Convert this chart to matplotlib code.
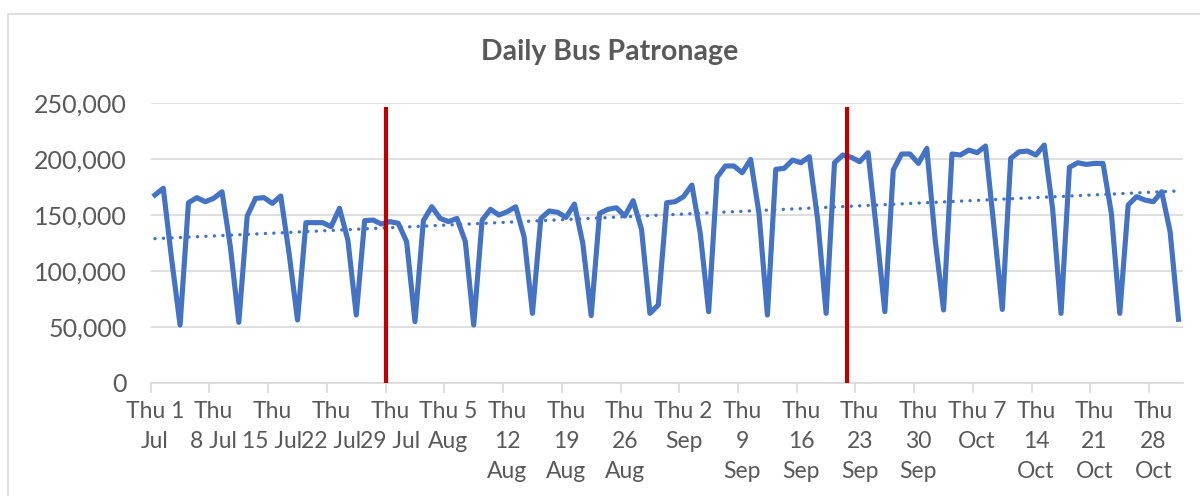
import numpy as np
import pandas as pd
import matplotlib
matplotlib.use("Agg")
import matplotlib.pyplot as plt
from matplotlib.patches import Rectangle

# daily boardings, Thu 1 Jul 2021 .. Sun 31 Oct 2021
patronage = [
    167600, 173600, 110000, 51500, 160700, 165200, 161600,
    164600, 170500, 121000, 53900, 148800, 164600, 165200,
    160100, 166700, 115000, 56000, 142900, 142900, 142900,
    139300, 155700, 127400, 60400, 144700, 145200, 141700,
    143800, 142300, 126000, 54500, 144700, 157100, 146700,
    143800, 146700, 126000, 51500, 145200, 154800, 149700,
    152700, 157100, 130400, 61900, 146700, 153300, 152100,
    147600, 159500, 124400, 59900, 151200, 154800, 156200,
    148800, 162500, 136900, 61900, 69400, 160700, 161600,
    166100, 176500, 133400, 63400, 183400, 193500, 193500,
    187500, 199400, 151200, 60400, 190500, 191400, 198800,
    196400, 201800, 145300, 61900, 196400, 203300, 201200,
    197300, 205400, 136300, 63400, 189900, 204200, 204200,
    195800, 209200, 127400, 64900, 204200, 203300, 207700,
    205400, 211300, 139300, 65400, 200300, 206200, 206800,
    203300, 212200, 155000, 61900, 192300, 196400, 194900,
    195800, 195800, 151200, 61900, 158700, 166100, 163100,
    161600, 170500, 134800, 56600,
]
start_date = "2021-07-01"
marker_dates = ["2021-07-29", "2021-09-22"]
tick_labels = [
    "Thu 1\nJul", "Thu\n8 Jul", "Thu\n15 Jul", "Thu\n22 Jul", "Thu\n29 Jul",
    "Thu 5\nAug", "Thu\n12\nAug", "Thu\n19\nAug", "Thu\n26\nAug", "Thu 2\nSep",
    "Thu\n9\nSep", "Thu\n16\nSep", "Thu\n23\nSep", "Thu\n30\nSep", "Thu 7\nOct",
    "Thu\n14\nOct", "Thu\n21\nOct", "Thu\n28\nOct",
]

BLUE = "#4472C4"
RED = "#C00000"
GRID = "#D9D9D9"
TXT = "#595959"
plt.rcParams["font.family"] = ["Lato", "DejaVu Sans"]

dates = pd.date_range(start_date, periods=len(patronage), freq="D")
xmid = dates + pd.Timedelta(hours=12)

fig = plt.figure(figsize=(12, 4.96), dpi=100)
fig.patches.append(Rectangle((8 / 1200, -0.1), 1.2, 1 - 14 / 496 + 0.1,
                             transform=fig.transFigure, fill=False,
                             edgecolor=GRID, linewidth=1.2))
ax = fig.add_axes([150.7 / 1200, 1 - 382.7 / 496, (1182.7 - 150.7) / 1200,
                   (382.7 - 102.7) / 496])

ax.plot(xmid, patronage, color=BLUE, lw=3.7, solid_joinstyle="round", zorder=3)

# linear trend (Excel-style dotted trendline)
xn = np.arange(len(patronage))
k, b = np.polyfit(xn, patronage, 1)
ax.plot(xmid, k * xn + b, color=BLUE, lw=2.4, linestyle=(0, (0.05, 2.5)),
        dash_capstyle="round", zorder=3)

for d in marker_dates:
    ax.vlines(pd.Timestamp(d), 0, 246500, color=RED, lw=3.0, zorder=4)

ax.set_ylim(0, 250000)
ax.set_yticks(np.arange(0, 250001, 50000))
ax.yaxis.set_major_formatter(matplotlib.ticker.FuncFormatter(lambda v, p: f"{v:,.0f}"))
ax.set_xlim(dates[0], dates[-1] + pd.Timedelta(days=1))

weeks = dates[::7]
ax.set_xticks(weeks)
ax.set_xticklabels([])
ax.set_xticks(weeks + pd.Timedelta(hours=12), minor=True)
ax.set_xticklabels(tick_labels, minor=True, fontsize=16.5, color=TXT,
                   linespacing=1.55, va="top")
ax.tick_params(axis="x", which="major", length=7, width=1.2, color=GRID,
               direction="out")
ax.tick_params(axis="x", which="minor", length=0, pad=13)
ax.tick_params(axis="y", length=0, pad=17, labelsize=18, labelcolor=TXT)

ax.grid(axis="y", color=GRID, lw=1.2)
ax.set_axisbelow(True)
for s in ("top", "right", "left"):
    ax.spines[s].set_visible(False)
ax.spines["bottom"].set_color(GRID)
ax.spines["bottom"].set_linewidth(1.2)

fig.text(610 / 1200, 1 - 52 / 496, "Daily Bus Patronage", ha="center", va="center",
         fontsize=20.5, fontweight="bold", color=TXT)

fig.savefig("out.png", dpi=100)
